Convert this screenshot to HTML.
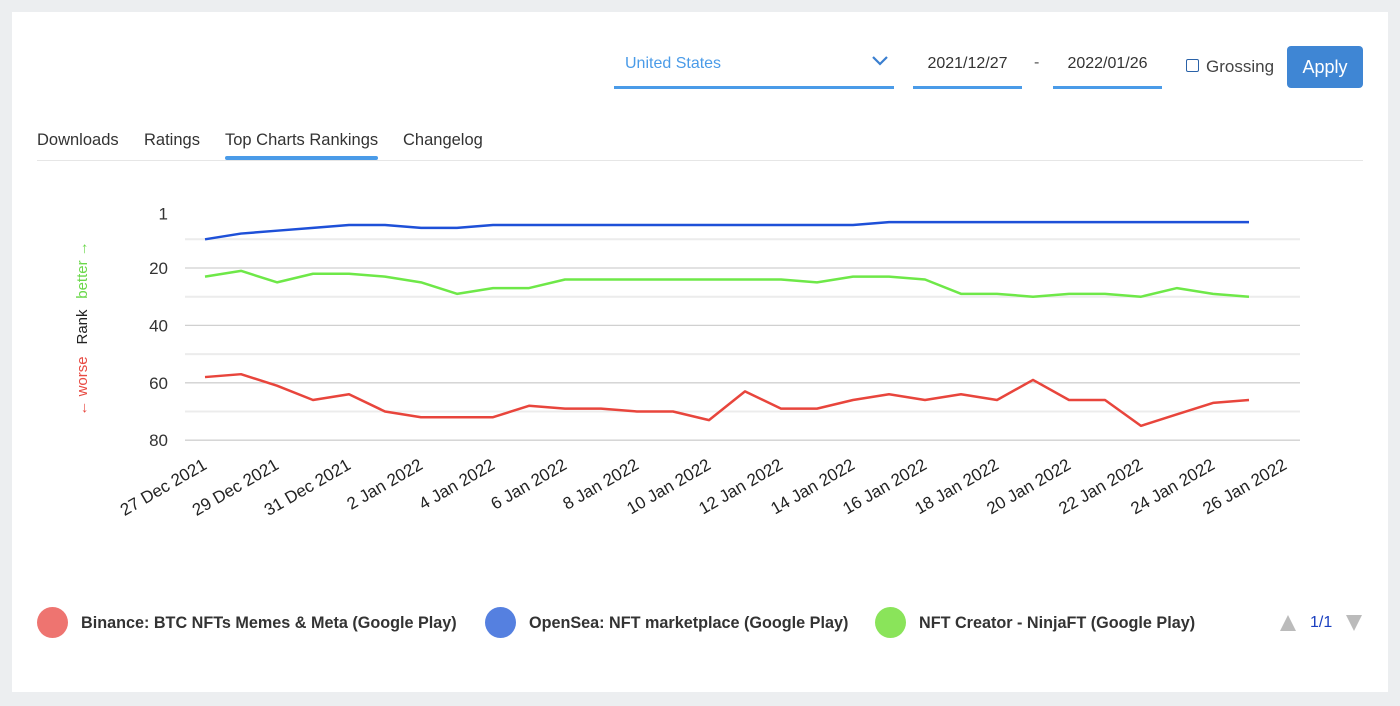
<!DOCTYPE html>
<html><head><meta charset="utf-8"><style>
body{margin:0;width:1400px;height:706px;background:#eceef0;font-family:"Liberation Sans",sans-serif;overflow:hidden;position:relative}
.card{position:absolute;left:12px;top:12px;width:1376px;height:680px;background:#fff}
.abs{position:absolute}
</style></head><body>
<div class="card"></div>
<div class="abs" style="left:614px;top:50px;width:280px;height:36px;border-bottom:3px solid #4a9be8">
 <span style="position:absolute;left:11px;top:5px;font-size:16px;color:#4a9be8">United States</span>
 <svg style="position:absolute;left:258px;top:5px" width="16" height="12"><polyline points="1,2 8,9 15,2" fill="none" stroke="#3a7fd0" stroke-width="2.2"/></svg>
</div>
<div class="abs" style="left:913px;top:50px;width:109px;height:36px;border-bottom:3px solid #4a9be8;font-size:16px;color:#333;text-align:center;line-height:28px">2021/12/27</div>
<div class="abs" style="left:1034px;top:54px;font-size:16px;color:#555">-</div>
<div class="abs" style="left:1053px;top:50px;width:109px;height:36px;border-bottom:3px solid #4a9be8;font-size:16px;color:#333;text-align:center;line-height:28px">2022/01/26</div>
<div class="abs" style="left:1186px;top:59px;width:11px;height:11px;border:1.5px solid #2a62a8;border-radius:2px"></div>
<div class="abs" style="left:1206px;top:57px;font-size:17px;color:#444">Grossing</div>
<div class="abs" style="left:1287px;top:46px;width:76px;height:42px;background:#3f86d4;border-radius:4px;color:#fff;font-size:18px;text-align:center;line-height:42px">Apply</div>
<div class="abs" style="left:37px;top:160px;width:1326px;height:1px;background:#e6e6e6"></div>
<div class="abs" style="left:37px;top:131px;font-size:16.5px;color:#333">Downloads</div>
<div class="abs" style="left:144px;top:131px;font-size:16.5px;color:#333">Ratings</div>
<div class="abs" style="left:225px;top:131px;font-size:16.5px;color:#333">Top Charts Rankings</div>
<div class="abs" style="left:225px;top:156px;width:153px;height:4px;background:#4a9be8;border-radius:2px"></div>
<div class="abs" style="left:403px;top:131px;font-size:16.5px;color:#333">Changelog</div>

<svg id="chart" class="abs" style="left:0;top:0" width="1400" height="706"></svg>

<div class="abs" style="left:37px;top:607px;height:32px">
 <span style="position:absolute;left:0;top:0;width:31px;height:31px;border-radius:50%;background:#ee7470"></span>
 <span style="position:absolute;left:44px;top:7px;white-space:nowrap;font-size:16.2px;font-weight:bold;color:#333">Binance: BTC NFTs Memes &amp; Meta (Google Play)</span></div>
<div class="abs" style="left:485px;top:607px;height:32px">
 <span style="position:absolute;left:0;top:0;width:31px;height:31px;border-radius:50%;background:#5580e0"></span>
 <span style="position:absolute;left:44px;top:7px;white-space:nowrap;font-size:16.2px;font-weight:bold;color:#333">OpenSea: NFT marketplace (Google Play)</span></div>
<div class="abs" style="left:875px;top:607px;height:32px">
 <span style="position:absolute;left:0;top:0;width:31px;height:31px;border-radius:50%;background:#8ae45a"></span>
 <span style="position:absolute;left:44px;top:7px;white-space:nowrap;font-size:16.2px;font-weight:bold;color:#333">NFT Creator - NinjaFT (Google Play)</span></div>
<svg class="abs" style="left:1279px;top:614px" width="18" height="18"><polygon points="9,1 17,17 1,17" fill="#bbb"/></svg>
<div class="abs" style="left:1310px;top:614px;font-size:16px;color:#1a3fc0">1/1</div>
<svg class="abs" style="left:1345px;top:614px" width="18" height="18"><polygon points="1,1 17,1 9,17" fill="#bbb"/></svg>

<script>
const dates=["27 Dec 2021","29 Dec 2021","31 Dec 2021","2 Jan 2022","4 Jan 2022","6 Jan 2022","8 Jan 2022","10 Jan 2022","12 Jan 2022","14 Jan 2022","16 Jan 2022","18 Jan 2022","20 Jan 2022","22 Jan 2022","24 Jan 2022","26 Jan 2022"];
const yTicks=[1,20,40,60,80];
const gridVals=[10,20,30,40,50,60,70,80];
const binance=[58,57,61,66,64,70,72,72,72,68,69,69,70,70,73,63,69,69,66,64,66,64,66,59,66,66,75,71,67,66];
const opensea=[10,8,7,6,5,5,6,6,5,5,5,5,5,5,5,5,5,5,5,4,4,4,4,4,4,4,4,4,4,4];
const ninjaft=[23,21,25,22,22,23,25,29,27,27,24,24,24,24,24,24,24,25,23,23,24,29,29,30,29,29,30,27,29,30];
const NS="http://www.w3.org/2000/svg";
const svg=document.getElementById('chart');
const xs=i=>205+36*i;
const ys=r=>268+(r-20)*2.87;
function mk(t,a){const e=document.createElementNS(NS,t);for(const k in a)e.setAttribute(k,a[k]);svg.appendChild(e);return e;}
gridVals.forEach(v=>{const l=mk('line',{x1:185,x2:1300,y1:ys(v),y2:ys(v),stroke:v%20?'#ececec':'#d0d0d0','stroke-width':v%20?2:1.3});

});
yTicks.forEach(v=>{const t=mk('text',{x:168,y:ys(v)+6,'text-anchor':'end','font-size':17,fill:'#333'});t.textContent=v;

});
dates.forEach((d,i)=>{const x=xs(i*2)+3,y=468;const t=mk('text',{x:x,y:y,'text-anchor':'end','font-size':17,fill:'#222',transform:`rotate(-30 ${x} ${y})`});t.textContent=d;

});
[['← worse','#e84a42',386,'y-axis-worse'],['Rank','#222',327,'y-axis-title'],['better →','#6ad84a',270,'y-axis-better']].forEach(([s,c,cy,n])=>{
const t=mk('text',{transform:`translate(87 ${cy}) rotate(-90)`,'text-anchor':'middle','font-size':15,fill:c});t.textContent=s;

});
[[binance,'#e8453c','binance'],[ninjaft,'#6ee848','ninjaft'],[opensea,'#1e50d8','opensea']].forEach(([s,c,n])=>{
const p=mk('polyline',{points:s.map((v,i)=>xs(i)+','+ys(v)).join(' '),fill:'none',stroke:c,'stroke-width':2.5,'stroke-linejoin':'round'});

});
</script>
</body></html>
